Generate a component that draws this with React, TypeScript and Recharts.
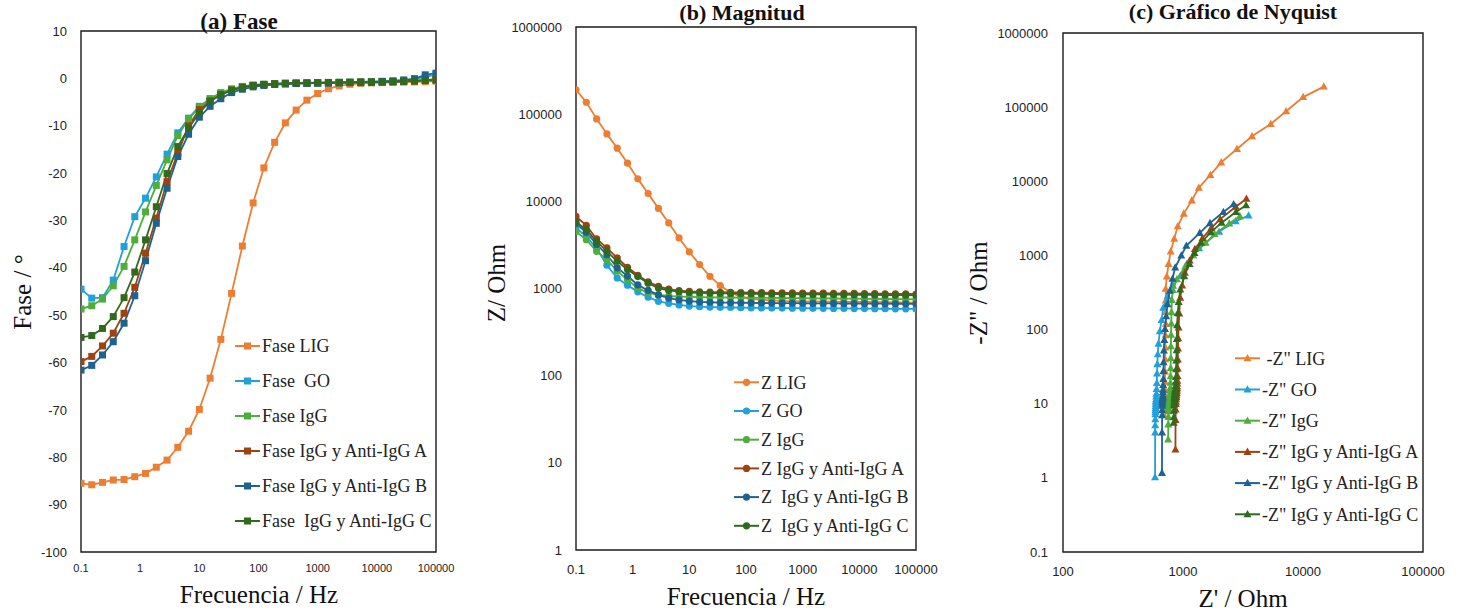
import React from "react";
import { LineChart, Line, ScatterChart, Scatter, XAxis, YAxis, ReferenceArea } from "recharts";

// frequencies (Hz), 5.5 points per decade, 0.1 Hz .. 100 kHz
const freq = [
  0.1, 0.152, 0.231, 0.351, 0.534, 0.811, 1.233, 1.874, 2.848, 4.329, 6.579, 10,
  15.2, 23.1, 35.1, 53.4, 81.1, 123.3, 187.4, 284.8, 432.9, 657.9, 1000,
  1520, 2310, 3511, 5337, 8111, 12330, 18740, 28480, 43290, 65790, 100000,
];

// phase (degrees)
const phaseLIG = [-85.5, -85.8, -85.3, -84.8, -84.7, -84.1, -83.4, -82.1, -80.6, -77.9, -74.5, -69.9, -63.3, -55.1, -45.4, -35.4, -26.3, -18.9, -13.5, -9.4, -6.7, -4.6, -3.2, -2.2, -1.6, -1.25, -1.05, -0.95, -0.9, -0.85, -0.8, -0.75, -0.7, -0.6];
const phaseGO = [-44.5, -46.4, -46.3, -42.6, -35.5, -29.2, -25.3, -20.8, -16.0, -11.5, -8.4, -5.9, -4.3, -3.2, -2.4, -1.8, -1.5, -1.3, -1.2, -1.1, -1.05, -1.0, -0.95, -0.9, -0.85, -0.8, -0.75, -0.7, -0.6, -0.5, -0.4, -0.1, 0.3, 0.8];
const phaseIgG = [-48.7, -48.0, -46.6, -43.8, -39.7, -34.1, -28.2, -22.6, -17.2, -12.1, -8.6, -6.1, -4.3, -3.0, -2.2, -1.7, -1.4, -1.2, -1.1, -1.0, -0.95, -0.9, -0.9, -0.85, -0.8, -0.8, -0.75, -0.7, -0.7, -0.65, -0.6, -0.5, -0.4, -0.25];
const phaseA = [-59.8, -58.7, -56.5, -53.8, -49.6, -44.1, -36.9, -29.5, -21.8, -15.8, -10.0, -6.6, -4.8, -3.5, -2.5, -1.9, -1.5, -1.3, -1.2, -1.1, -1.05, -1.0, -0.95, -0.9, -0.9, -0.85, -0.8, -0.8, -0.75, -0.7, -0.65, -0.55, -0.4, -0.16];
const phaseB = [-61.6, -60.6, -58.4, -55.6, -51.7, -45.9, -38.5, -30.6, -23.2, -16.5, -11.8, -8.2, -5.9, -4.3, -3.0, -2.3, -1.8, -1.5, -1.3, -1.2, -1.1, -1.05, -1.0, -1.0, -0.95, -0.9, -0.85, -0.8, -0.7, -0.6, -0.35, -0.1, 0.75, 1.1];
const phaseC = [-54.7, -54.3, -52.8, -50.3, -46.3, -40.9, -34.1, -27.1, -20.1, -14.4, -10.5, -7.3, -4.8, -3.4, -2.5, -1.9, -1.5, -1.3, -1.15, -1.05, -1.0, -1.0, -0.95, -0.9, -0.9, -0.85, -0.8, -0.8, -0.75, -0.7, -0.65, -0.55, -0.45, -0.38];

// |Z| (Ohm)
const magLIG = [190000, 137000, 88300, 59400, 40700, 27400, 18100, 12300, 8300, 5650, 3800, 2630, 1880, 1380, 1080, 900, 800, 760, 740, 730, 720, 715, 712, 710, 708, 706, 704, 702, 700, 698, 696, 694, 692, 690];
const magGO = [4930, 3980, 2890, 1850, 1320, 1090, 915, 795, 712, 676, 648, 628, 618, 612, 608, 605, 602, 600, 598, 597, 596, 595, 594, 593, 592, 591, 590, 589, 588, 587, 586, 585, 584, 583];
const magIgG = [4510, 3630, 2670, 2140, 1580, 1260, 1010, 890, 845, 820, 808, 800, 795, 792, 790, 788, 786, 784, 782, 780, 778, 776, 774, 772, 770, 768, 766, 764, 762, 760, 758, 756, 754, 752];
const magA = [6710, 5300, 3700, 2920, 2240, 1750, 1420, 1190, 1060, 985, 945, 925, 915, 910, 906, 903, 900, 897, 895, 893, 891, 889, 887, 885, 883, 881, 879, 877, 875, 873, 871, 869, 867, 865];
const magB = [5550, 4420, 3200, 2440, 1720, 1390, 1100, 950, 845, 775, 740, 715, 702, 695, 690, 688, 686, 684, 682, 680, 679, 678, 677, 676, 675, 674, 673, 672, 671, 670, 669, 668, 667, 666];
const magC = [5800, 4730, 3470, 2670, 2050, 1650, 1370, 1150, 1010, 950, 920, 900, 890, 885, 880, 877, 874, 871, 868, 865, 862, 860, 858, 856, 854, 852, 850, 848, 846, 844, 842, 840, 838, 836];

const freqTicks = [0.1, 1, 10, 100, 1000, 10000, 100000];
const phaseTicks = [-100, -90, -80, -70, -60, -50, -40, -30, -20, -10, 0, 10];
const magTicks = [1, 10, 100, 1000, 10000, 100000, 1000000];
const zrealTicks = [100, 1000, 10000, 100000];
const zimagTicks = [0.1, 1, 10, 100, 1000, 10000, 100000, 1000000];

const seriesKeys = ["LIG", "GO", "IgG", "A", "B", "C"];
const colors = ["#ED7D31", "#22A0DA", "#4FAE3B", "#A0420F", "#1E6390", "#316A1F"];
const phaseNames = ["Fase LIG", "Fase  GO", "Fase IgG", "Fase IgG y Anti-IgG A", "Fase IgG y Anti-IgG B", "Fase  IgG y Anti-IgG C"];
const magNames = ["Z LIG", "Z GO", "Z IgG", "Z IgG y Anti-IgG A", "Z  IgG y Anti-IgG B", "Z  IgG y Anti-IgG C"];
const nyqNames = ["\u00a0-Z\" LIG", "-Z\" GO", "-Z\" IgG", "-Z\" IgG y Anti-IgG A", "-Z\" IgG y Anti-IgG B", "-Z\" IgG y Anti-IgG C"];

const phases = [phaseLIG, phaseGO, phaseIgG, phaseA, phaseB, phaseC];
const mags = [magLIG, magGO, magIgG, magA, magB, magC];

const phaseRows = freq.map((f, i) => {
  const row: Record<string, number> = { f };
  seriesKeys.forEach((k, s) => (row[k] = phases[s][i]));
  return row;
});
const magRows = freq.map((f, i) => {
  const row: Record<string, number> = { f };
  seriesKeys.forEach((k, s) => (row[k] = mags[s][i]));
  return row;
});
// Nyquist points: Z' = |Z| cos(phi), -Z'' = -|Z| sin(phi); non-positive -Z'' can't sit on a log axis
const nyquist = mags.map((m, s) =>
  m
    .map((z, i) => {
      const rad = (phases[s][i] * Math.PI) / 180;
      return { x: z * Math.cos(rad), y: -z * Math.sin(rad) };
    })
    .filter((p) => p.y > 0)
);

const SANS = "'Liberation Sans', Arial, sans-serif";
const SERIF = "'Liberation Serif', 'Times New Roman', serif";
const INK = "#222";
const FRAME = "#1a1a1a";

const squareDot = (color: string) => (p: any) =>
  p.cx == null ? null : <rect key={p.index} x={p.cx - 3.5} y={p.cy - 3.5} width={7} height={7} fill={color} />;
const circleDot = (color: string) => (p: any) =>
  p.cx == null ? null : <circle key={p.index} cx={p.cx} cy={p.cy} r={3.6} fill={color} />;
const triangle = (color: string) => (p: any) =>
  p.cx == null ? null : (
    <polygon points={`${p.cx},${p.cy - 4.3} ${p.cx + 4},${p.cy + 3} ${p.cx - 4},${p.cy + 3}`} fill={color} />
  );

function Legend({ x, y, step, names, marker }: { x: number; y: number; step: number; names: string[]; marker: string }) {
  return (
    <g>
      {names.map((n, i) => {
        const cy = y + i * step;
        const c = colors[i];
        const mx = x + 12.5;
        return (
          <g key={n}>
            <line x1={x} x2={x + 25} y1={cy} y2={cy} stroke={c} strokeWidth={2} />
            {marker === "square" && <rect x={mx - 3.5} y={cy - 3.5} width={7} height={7} fill={c} />}
            {marker === "circle" && <circle cx={mx} cy={cy} r={3.6} fill={c} />}
            {marker === "triangle" && <polygon points={`${mx},${cy - 4.3} ${mx + 4},${cy + 3} ${mx - 4},${cy + 3}`} fill={c} />}
            <text x={x + 27} y={cy + 6.3} fontFamily={SERIF} fontSize={18} fill={INK} style={{ whiteSpace: "pre" }}>
              {n}
            </text>
          </g>
        );
      })}
    </g>
  );
}

export default function App() {
  const tickX = (size: number) => ({ fontSize: size, fill: INK, fontFamily: SANS });
  return (
    <div style={{ position: "absolute", left: 0, top: 0, width: 1465, height: 613, background: "#fff" }}>
      {/* (a) phase */}
      <div style={{ position: "absolute", left: 0, top: 0 }}>
        <LineChart width={460} height={613} data={phaseRows} margin={{ top: 31, right: 24, bottom: 0, left: 0 }}>
          <XAxis dataKey="f" type="number" scale="log" domain={[0.1, 100000]} ticks={freqTicks} interval={0}
            allowDataOverflow axisLine={false} tickLine={false} tickSize={0} tickMargin={12} height={61} tick={tickX(11)} />
          <YAxis type="number" domain={[-100, 10]} ticks={phaseTicks} interval={0} allowDataOverflow
            axisLine={false} tickLine={false} tickSize={0} tickMargin={14} width={81} tick={tickX(13)} />
          <ReferenceArea x1={0.1} x2={100000} y1={-100} y2={10} fill="none" stroke={FRAME} strokeWidth={1.4} />
          {seriesKeys.map((k, i) => (
            <Line key={k} dataKey={k} stroke={colors[i]} strokeWidth={1.8} dot={squareDot(colors[i])}
              activeDot={false} isAnimationActive={false} />
          ))}
        </LineChart>
      </div>

      {/* (b) magnitude */}
      <div style={{ position: "absolute", left: 490, top: 0 }}>
        <LineChart width={450} height={613} data={magRows} margin={{ top: 27, right: 24, bottom: 0, left: 0 }}>
          <XAxis dataKey="f" type="number" scale="log" domain={[0.1, 100000]} ticks={freqTicks} interval={0}
            allowDataOverflow axisLine={false} tickLine={false} tickSize={0} tickMargin={15} height={63} tick={tickX(13)} />
          <YAxis type="number" scale="log" domain={[1, 1000000]} ticks={magTicks} interval={0} allowDataOverflow
            axisLine={false} tickLine={false} tickSize={0} tickMargin={14} width={86} tick={tickX(13)} />
          <ReferenceArea x1={0.1} x2={100000} y1={1} y2={1000000} fill="none" stroke={FRAME} strokeWidth={1.4} />
          {seriesKeys.map((k, i) => (
            <Line key={k} dataKey={k} stroke={colors[i]} strokeWidth={1.8} dot={circleDot(colors[i])}
              activeDot={false} isAnimationActive={false} />
          ))}
        </LineChart>
      </div>

      {/* (c) Nyquist */}
      <div style={{ position: "absolute", left: 980, top: 0 }}>
        <ScatterChart width={470} height={613} margin={{ top: 33, right: 27, bottom: 0, left: 0 }}>
          <XAxis dataKey="x" type="number" scale="log" domain={[100, 100000]} ticks={zrealTicks} interval={0}
            allowDataOverflow axisLine={false} tickLine={false} tickSize={0} tickMargin={15} height={61} tick={tickX(13)} />
          <YAxis dataKey="y" type="number" scale="log" domain={[0.1, 1000000]} ticks={zimagTicks} interval={0}
            allowDataOverflow axisLine={false} tickLine={false} tickSize={0} tickMargin={15} width={83} tick={tickX(13)} />
          <ReferenceArea x1={100} x2={100000} y1={0.1} y2={1000000} fill="none" stroke={FRAME} strokeWidth={1.4} />
          {seriesKeys.map((k, i) => (
            <Scatter key={k} name={k} data={nyquist[i]} fill={colors[i]} line={{ stroke: colors[i], strokeWidth: 1.8 }}
              lineType="joint" shape={triangle(colors[i])} isAnimationActive={false} />
          ))}
        </ScatterChart>
      </div>

      {/* titles, axis titles, legends */}
      <svg width={1465} height={613} style={{ position: "absolute", left: 0, top: 0, pointerEvents: "none" }}>
        <g fontFamily={SERIF} fill="#111" textAnchor="middle">
          <text x={239} y={29} fontSize={23} fontWeight="bold">(a) Fase</text>
          <text x={742} y={20} fontSize={22} fontWeight="bold">(b) Magnitud</text>
          <text x={1233} y={19} fontSize={22} fontWeight="bold">(c) Gráfico de Nyquist</text>

          <text x={259} y={603} fontSize={25}>Frecuencia / Hz</text>
          <text x={746} y={605} fontSize={25}>Frecuencia / Hz</text>
          <text x={1243} y={607} fontSize={25}>Z' / Ohm</text>

          <text x={31} y={292} fontSize={25} transform="rotate(-90 31 292)">Fase / °</text>
          <text x={505} y={283} fontSize={25} transform="rotate(-90 505 283)">Z/ Ohm</text>
          <text x={987} y={293} fontSize={25} transform="rotate(-90 987 293)">-Z" / Ohm</text>
        </g>
        <Legend x={235} y={346} step={35} names={phaseNames} marker="square" />
        <Legend x={734} y={382.3} step={28.7} names={magNames} marker="circle" />
        <Legend x={1235} y={358.3} step={31.2} names={nyqNames} marker="triangle" />
      </svg>
    </div>
  );
}
